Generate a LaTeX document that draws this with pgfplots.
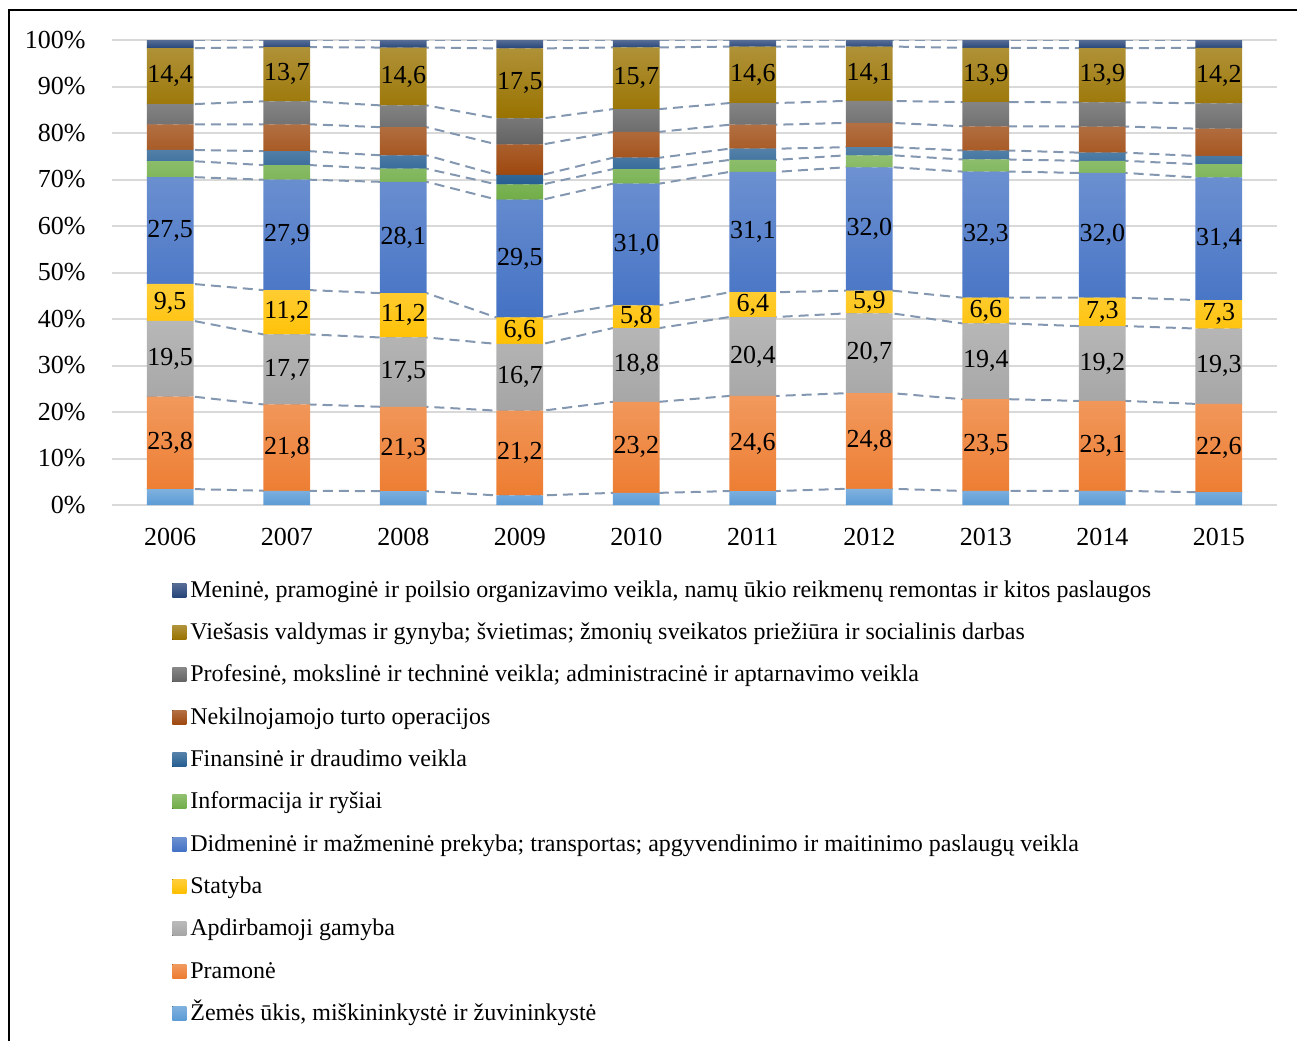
\documentclass[border=0pt]{standalone}
\usepackage{pgfplots}
\pgfplotsset{compat=1.18}
\usepackage{pgfplotstable}
\usepackage{fontspec}
\setmainfont{Liberation Serif}

\definecolor{cZem}{HTML}{5B9BD5}
\definecolor{cPram}{HTML}{ED7D31}
\definecolor{cApd}{HTML}{A5A5A5}
\definecolor{cStat}{HTML}{FFC000}
\definecolor{cDidm}{HTML}{4472C4}
\definecolor{cInfo}{HTML}{70AD47}
\definecolor{cFin}{HTML}{255E91}
\definecolor{cNek}{HTML}{9E480E}
\definecolor{cProf}{HTML}{636363}
\definecolor{cVies}{HTML}{997300}
\definecolor{cMen}{HTML}{264478}
\definecolor{cLine}{HTML}{8497B0}
\definecolor{cGrid}{HTML}{D9D9D9}

% shares of value added, %; Pramone includes Apdirbamoji gamyba, so each year sums to about 100 + Apd
% two rows per year: xe = left and right edge of the bar (for the series lines)
\pgfplotstableread{
idx xe Zem Pram Apd Stat Didm Info Fin Nek Prof Vies Men tot
0 -0.2 4.1 23.8 19.5 9.5 27.5 4.1 2.9 6.6 5.2 14.4 2.1 119.7
0 0.2 4.1 23.8 19.5 9.5 27.5 4.1 2.9 6.6 5.2 14.4 2.1 119.7
1 0.8 3.6 21.8 17.7 11.2 27.9 3.7 3.5 6.8 5.8 13.7 1.8 117.5
1 1.2 3.6 21.8 17.7 11.2 27.9 3.7 3.5 6.8 5.8 13.7 1.8 117.5
2 1.8 3.5 21.3 17.5 11.2 28.1 3.3 3.4 7.1 5.5 14.6 1.9 117.4
2 2.2 3.5 21.3 17.5 11.2 28.1 3.3 3.4 7.1 5.5 14.6 1.9 117.4
3 2.8 2.4 21.2 16.7 6.6 29.5 3.8 2.4 7.6 6.5 17.5 2.1 116.3
3 3.2 2.4 21.2 16.7 6.6 29.5 3.8 2.4 7.6 6.5 17.5 2.1 116.3
4 3.8 3.1 23.2 18.8 5.8 31.0 3.7 2.9 6.6 5.8 15.7 1.9 118.5
4 4.2 3.1 23.2 18.8 5.8 31.0 3.7 2.9 6.6 5.8 15.7 1.9 118.5
5 4.8 3.6 24.6 20.4 6.4 31.1 3.1 2.9 6.2 5.6 14.6 1.7 120.2
5 5.2 3.6 24.6 20.4 6.4 31.1 3.1 2.9 6.2 5.6 14.6 1.7 120.2
6 5.8 4.2 24.8 20.7 5.9 32.0 3.1 2.1 6.3 5.7 14.1 1.7 120.6
6 6.2 4.2 24.8 20.7 5.9 32.0 3.1 2.1 6.3 5.7 14.1 1.7 120.6
7 6.8 3.6 23.5 19.4 6.6 32.3 3.1 2.3 6.2 6.2 13.9 2.0 119.1
7 7.2 3.6 23.5 19.4 6.6 32.3 3.1 2.3 6.2 6.2 13.9 2.0 119.1
8 7.8 3.6 23.1 19.2 7.3 32.0 3.1 2.1 6.7 6.2 13.9 2.1 119.3
8 8.2 3.6 23.1 19.2 7.3 32.0 3.1 2.1 6.7 6.2 13.9 2.1 119.3
9 8.8 3.3 22.6 19.3 7.3 31.4 3.4 2.1 7.0 6.5 14.2 2.0 119.1
9 9.2 3.3 22.6 19.3 7.3 31.4 3.4 2.1 7.0 6.5 14.2 2.0 119.1
}\data

\pgfkeys{/pgf/number format/assume math mode=true}

\pgfplotsset{
  base/.style={
    width=582.5pt, height=232.5pt, scale only axis,
    at={(0pt,0pt)}, anchor=south west,
    xmin=-0.5, xmax=9.5, ymin=0, ymax=100,
    axis line style={draw=none}, major tick length=0pt,
    ytick={0,10,...,100},
  },
  seg/.style={draw=none, top color=#1!78!white, bottom color=#1,
    legend image code/.code={\fill[##1] (0pt,0pt) rectangle (7pt,7pt);}},
  lab/.style={
    visualization depends on={\thisrow{#1} \as \rawv},
    nodes near coords={\pgfmathprintnumber[fixed,fixed zerofill,precision=1,use comma]{\rawv}},
    every node near coord/.append style={font=\fontsize{13}{13}\selectfont, text=black,
      anchor=center, inner sep=0pt},
  },
  sl/.style={cLine, line width=1pt, dash pattern=on 5pt off 3pt, no marks},
}

\begin{document}
\begin{tikzpicture}[x=1pt,y=1pt]
\useasboundingbox (-56,-268) rectangle (592.5,252.5);
\draw[line width=1pt] (-51.5,-268) -- (-51.5,247.5) -- (592.5,247.5);

% grid and series lines
\begin{axis}[base, ymajorgrids, grid style={cGrid, line width=1pt},
  xtick=\empty, yticklabels={}]
\addplot[sl] table[x=xe, y expr={\thisrow{Zem}*100/\thisrow{tot}}] {\data};
\addplot[sl] table[x=xe, y expr={(\thisrow{Zem}+\thisrow{Pram})*100/\thisrow{tot}}] {\data};
\addplot[sl] table[x=xe, y expr={(\thisrow{Zem}+\thisrow{Pram}+\thisrow{Apd})*100/\thisrow{tot}}] {\data};
\addplot[sl] table[x=xe, y expr={(\thisrow{Zem}+\thisrow{Pram}+\thisrow{Apd}+\thisrow{Stat})*100/\thisrow{tot}}] {\data};
\addplot[sl] table[x=xe, y expr={(\thisrow{Zem}+\thisrow{Pram}+\thisrow{Apd}+\thisrow{Stat}+\thisrow{Didm})*100/\thisrow{tot}}] {\data};
\addplot[sl] table[x=xe, y expr={(\thisrow{Zem}+\thisrow{Pram}+\thisrow{Apd}+\thisrow{Stat}+\thisrow{Didm}+\thisrow{Info})*100/\thisrow{tot}}] {\data};
\addplot[sl] table[x=xe, y expr={(\thisrow{Zem}+\thisrow{Pram}+\thisrow{Apd}+\thisrow{Stat}+\thisrow{Didm}+\thisrow{Info}+\thisrow{Fin})*100/\thisrow{tot}}] {\data};
\addplot[sl] table[x=xe, y expr={(\thisrow{Zem}+\thisrow{Pram}+\thisrow{Apd}+\thisrow{Stat}+\thisrow{Didm}+\thisrow{Info}+\thisrow{Fin}+\thisrow{Nek})*100/\thisrow{tot}}] {\data};
\addplot[sl] table[x=xe, y expr={(\thisrow{Zem}+\thisrow{Pram}+\thisrow{Apd}+\thisrow{Stat}+\thisrow{Didm}+\thisrow{Info}+\thisrow{Fin}+\thisrow{Nek}+\thisrow{Prof})*100/\thisrow{tot}}] {\data};
\addplot[sl] table[x=xe, y expr={(\thisrow{Zem}+\thisrow{Pram}+\thisrow{Apd}+\thisrow{Stat}+\thisrow{Didm}+\thisrow{Info}+\thisrow{Fin}+\thisrow{Nek}+\thisrow{Prof}+\thisrow{Vies})*100/\thisrow{tot}}] {\data};
\addplot[sl] table[x=xe, y expr={(\thisrow{Zem}+\thisrow{Pram}+\thisrow{Apd}+\thisrow{Stat}+\thisrow{Didm}+\thisrow{Info}+\thisrow{Fin}+\thisrow{Nek}+\thisrow{Prof}+\thisrow{Vies}+\thisrow{Men})*100/\thisrow{tot}}] {\data};
\end{axis}

% stacked bars
\begin{axis}[base, ybar stacked, bar width=0.4,
  each nth point=2, filter discard warning=false,
  xtick={0,...,9}, xticklabels={2006,2007,2008,2009,2010,2011,2012,2013,2014,2015},
  yticklabel={\pgfmathprintnumber{\tick}\%},
  tick label style={font=\fontsize{13}{13}\selectfont},
  yticklabel style={anchor=east, inner sep=0pt, xshift=-13pt},
  xticklabel style={anchor=center, inner sep=0pt, yshift=-16pt},
  reverse legend, legend cell align=left,
  legend style={at={(axis description cs:0.0515,-0.159)}, anchor=north west,
    draw=none, fill=none, inner sep=0pt, row sep=9.15pt, column sep=2pt,
    font=\fontsize{12}{12}\selectfont,
    nodes={inner sep=0pt, text height=9pt, text depth=3pt, anchor=base west}},
]
\addplot[seg=cZem] table[x=idx, y expr={\thisrow{Zem}*100/\thisrow{tot}}] {\data};
\addlegendentry{Žemės ūkis, miškininkystė ir žuvininkystė}
\addplot[seg=cPram, lab=Pram] table[x=idx, y expr={\thisrow{Pram}*100/\thisrow{tot}}] {\data};
\addlegendentry{Pramonė}
\addplot[seg=cApd, lab=Apd] table[x=idx, y expr={\thisrow{Apd}*100/\thisrow{tot}}] {\data};
\addlegendentry{Apdirbamoji gamyba}
\addplot[seg=cStat, lab=Stat] table[x=idx, y expr={\thisrow{Stat}*100/\thisrow{tot}}] {\data};
\addlegendentry{Statyba}
\addplot[seg=cDidm, lab=Didm] table[x=idx, y expr={\thisrow{Didm}*100/\thisrow{tot}}] {\data};
\addlegendentry{Didmeninė ir mažmeninė prekyba; transportas; apgyvendinimo ir maitinimo paslaugų veikla}
\addplot[seg=cInfo] table[x=idx, y expr={\thisrow{Info}*100/\thisrow{tot}}] {\data};
\addlegendentry{Informacija ir ryšiai}
\addplot[seg=cFin] table[x=idx, y expr={\thisrow{Fin}*100/\thisrow{tot}}] {\data};
\addlegendentry{Finansinė ir draudimo veikla}
\addplot[seg=cNek] table[x=idx, y expr={\thisrow{Nek}*100/\thisrow{tot}}] {\data};
\addlegendentry{Nekilnojamojo turto operacijos}
\addplot[seg=cProf] table[x=idx, y expr={\thisrow{Prof}*100/\thisrow{tot}}] {\data};
\addlegendentry{Profesinė, mokslinė ir techninė veikla; administracinė ir aptarnavimo veikla}
\addplot[seg=cVies, lab=Vies] table[x=idx, y expr={\thisrow{Vies}*100/\thisrow{tot}}] {\data};
\addlegendentry{Viešasis valdymas ir gynyba; švietimas; žmonių sveikatos priežiūra ir socialinis darbas}
\addplot[seg=cMen] table[x=idx, y expr={\thisrow{Men}*100/\thisrow{tot}}] {\data};
\addlegendentry{Meninė, pramoginė ir poilsio organizavimo veikla, namų ūkio reikmenų remontas ir kitos paslaugos}
\end{axis}
\end{tikzpicture}
\end{document}
